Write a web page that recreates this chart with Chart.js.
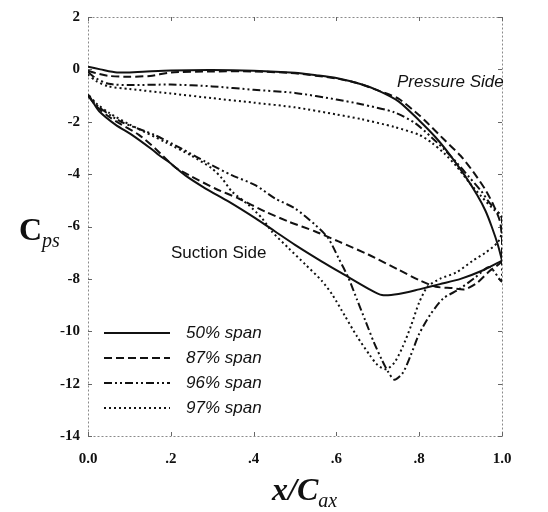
<!DOCTYPE html>
<html><head><meta charset="utf-8">
<script src="https://cdn.jsdelivr.net/npm/chart.js@4/dist/chart.umd.min.js"></script>
<style>html,body{margin:0;padding:0;background:#fff}</style>
</head><body>
<canvas id="c" width="548" height="512"></canvas>
<script>
// ---- data (x/Cax, Cps) ----
const spanLabels = ['50% span', '87% span', '96% span', '97% span'];

const pressure50 = [[0,0.1],[0.03,0.0],[0.07,-0.12],[0.12,-0.1],[0.2,-0.04],[0.3,-0.02],[0.4,-0.05],[0.5,-0.13],[0.55,-0.22],[0.6,-0.33],[0.66,-0.57],[0.7,-0.8],[0.75,-1.22],[0.8,-1.95],[0.84,-2.6],[0.875,-3.28],[0.91,-4.05],[0.94,-4.8],[0.96,-5.4],[0.975,-6.0],[0.99,-6.7],[1.0,-7.3]];
const suction50 = [[0,-0.95],[0.01,-1.2],[0.027,-1.6],[0.067,-2.12],[0.106,-2.5],[0.154,-3.05],[0.171,-3.27],[0.195,-3.53],[0.235,-4.05],[0.284,-4.55],[0.34,-5.05],[0.404,-5.68],[0.452,-6.19],[0.5,-6.7],[0.564,-7.33],[0.62,-7.85],[0.68,-8.4],[0.71,-8.62],[0.75,-8.58],[0.8,-8.4],[0.85,-8.2],[0.9,-8.0],[0.95,-7.7],[1.0,-7.3]];

const pressure87 = [[0,-0.05],[0.02,-0.15],[0.05,-0.25],[0.1,-0.28],[0.15,-0.25],[0.2,-0.12],[0.3,-0.08],[0.4,-0.08],[0.5,-0.15],[0.6,-0.35],[0.65,-0.52],[0.7,-0.8],[0.75,-1.12],[0.8,-1.75],[0.82,-2.05],[0.86,-2.68],[0.9,-3.3],[0.93,-3.9],[0.96,-4.6],[0.98,-5.2],[0.995,-5.8],[1.0,-6.5]];
const suction87 = [[0,-1.0],[0.02,-1.4],[0.05,-1.8],[0.08,-2.1],[0.123,-2.5],[0.163,-3.03],[0.211,-3.75],[0.243,-4.03],[0.307,-4.55],[0.364,-4.93],[0.428,-5.43],[0.484,-5.81],[0.549,-6.19],[0.605,-6.57],[0.677,-7.07],[0.75,-7.65],[0.8,-8.05],[0.84,-8.3],[0.88,-8.35],[0.91,-8.4],[0.94,-8.15],[0.97,-7.7],[1.0,-7.3]];

const pressure96 = [[0,-0.1],[0.02,-0.35],[0.05,-0.55],[0.1,-0.6],[0.2,-0.58],[0.3,-0.65],[0.4,-0.78],[0.5,-0.9],[0.6,-1.15],[0.66,-1.33],[0.74,-1.64],[0.79,-2.05],[0.83,-2.6],[0.86,-3.05],[0.89,-3.55],[0.92,-4.1],[0.95,-4.65],[0.97,-5.1],[1.0,-5.7]];
const suction96 = [[0,-1.0],[0.027,-1.45],[0.08,-2.0],[0.163,-2.52],[0.226,-3.03],[0.284,-3.53],[0.347,-4.04],[0.404,-4.42],[0.452,-4.93],[0.5,-5.31],[0.549,-5.94],[0.58,-6.44],[0.605,-7.2],[0.629,-7.96],[0.65,-8.8],[0.67,-9.6],[0.69,-10.4],[0.71,-11.1],[0.725,-11.55],[0.74,-11.85],[0.76,-11.6],[0.78,-10.9],[0.8,-10.1],[0.827,-9.36],[0.858,-8.75],[0.896,-8.4],[0.935,-7.95],[0.97,-7.55],[1.0,-8.1],[1.0,-7.2]];

const pressure97 = [[0,-0.2],[0.02,-0.45],[0.05,-0.65],[0.1,-0.75],[0.2,-0.92],[0.3,-1.1],[0.4,-1.27],[0.5,-1.45],[0.6,-1.72],[0.66,-1.9],[0.74,-2.2],[0.8,-2.5],[0.83,-2.8],[0.86,-3.2],[0.89,-3.7],[0.92,-4.3],[0.95,-4.85],[0.98,-5.35],[1.0,-5.6]];
const suction97 = [[0,-0.95],[0.02,-1.3],[0.05,-1.65],[0.1,-2.1],[0.187,-2.78],[0.25,-3.3],[0.3,-3.79],[0.324,-4.17],[0.348,-4.67],[0.388,-5.18],[0.42,-5.68],[0.444,-6.19],[0.484,-6.82],[0.525,-7.45],[0.565,-8.08],[0.59,-8.6],[0.62,-9.4],[0.65,-10.2],[0.68,-10.9],[0.7,-11.3],[0.72,-11.45],[0.74,-11.2],[0.76,-10.6],[0.78,-9.8],[0.8,-8.9],[0.82,-8.3],[0.85,-8.0],[0.89,-7.75],[0.93,-7.3],[0.96,-7.0],[0.99,-6.6],[1.0,-6.2]];

const xTickValues = [0, 0.2, 0.4, 0.6, 0.8, 1.0];
const xTickLabels = ['0.0', '.2', '.4', '.6', '.8', '1.0'];
const yTickValues = [2, 0, -2, -4, -6, -8, -10, -12, -14];
const yTickLabels = ['2', '0', '-2', '-4', '-6', '-8', '-10', '-12', '-14'];

// ---- styles ----
const dashes = [[], [8, 4], [8, 3, 2, 3, 2, 3], [2, 3]];
const ink = '#111';

function loop(p, s) {
  return p.concat(s.slice().reverse()).map(([x, y]) => ({x, y}));
}
const series = [loop(pressure50, suction50), loop(pressure87, suction87), loop(pressure96, suction96), loop(pressure97, suction97)];

const datasets = series.map((d, i) => ({
  label: spanLabels[i], data: d, showLine: true, pointRadius: 0,
  borderColor: ink, borderWidth: 2, borderDash: dashes[i], tension: 0.25, fill: false
}));

const decor = {
  id: 'decor',
  beforeDatasetsDraw(chart) {
    const {ctx, chartArea: a, scales: {x, y}} = chart;
    ctx.save();
    ctx.strokeStyle = '#8a8a8a'; ctx.lineWidth = 1; ctx.setLineDash([2, 2]);
    ctx.strokeRect(a.left + 0.5, a.top + 0.5, a.right - a.left, a.bottom - a.top);
    ctx.setLineDash([]); ctx.strokeStyle = '#666';
    ctx.beginPath();
    xTickValues.forEach(v => { const px = Math.round(x.getPixelForValue(v)) + 0.5; ctx.moveTo(px, a.bottom); ctx.lineTo(px, a.bottom - 4); ctx.moveTo(px, a.top); ctx.lineTo(px, a.top + 4); });
    yTickValues.forEach(v => { const py = Math.round(y.getPixelForValue(v)) + 0.5; ctx.moveTo(a.left, py); ctx.lineTo(a.left + 4, py); ctx.moveTo(a.right, py); ctx.lineTo(a.right - 4, py); });
    ctx.stroke();
    ctx.restore();
  },
  afterDraw(chart) {
    const {ctx} = chart;
    ctx.save();
    ctx.fillStyle = ink;
    // annotations
    ctx.font = 'italic 17px "Liberation Sans Narrow", "Liberation Sans", Arial, sans-serif';
    ctx.textBaseline = 'alphabetic'; ctx.textAlign = 'left';
    ctx.fillText('Pressure Side', 397, 87);
    ctx.font = '17px "Liberation Sans Narrow", "Liberation Sans", Arial, sans-serif';
    ctx.fillText('Suction Side', 171, 258);
    // legend
    const ly = [333, 358, 383, 408];
    chart.data.datasets.forEach((ds, i) => {
      ctx.beginPath(); ctx.strokeStyle = ink; ctx.lineWidth = 2; ctx.setLineDash(ds.borderDash);
      ctx.moveTo(104, ly[i]); ctx.lineTo(170, ly[i]); ctx.stroke();
      ctx.setLineDash([]);
      ctx.font = 'italic 17px "Liberation Sans Narrow", "Liberation Sans", Arial, sans-serif';
      ctx.textBaseline = 'middle';
      ctx.fillText(ds.label, 186, ly[i]);
    });
    // axis titles
    ctx.textBaseline = 'alphabetic';
    ctx.font = 'bold 32px "Liberation Serif", "Times New Roman", serif';
    ctx.fillText('C', 19, 240);
    ctx.font = 'italic 20px "Liberation Serif", "Times New Roman", serif';
    ctx.fillText('ps', 42, 247);
    ctx.font = 'bold italic 32px "Liberation Serif", "Times New Roman", serif';
    ctx.fillText('x/C', 272, 500);
    const w = ctx.measureText('x/C').width;
    ctx.font = 'italic 20px "Liberation Serif", "Times New Roman", serif';
    ctx.fillText('ax', 272 + w, 507);
    ctx.restore();
  }
};

new Chart(document.getElementById('c'), {
  type: 'scatter',
  data: {datasets},
  options: {
    responsive: false, animation: false, devicePixelRatio: 1,
    layout: {padding: {top: 14, right: 46, left: 0, bottom: 0}},
    plugins: {legend: {display: false}, tooltip: {enabled: false}},
    scales: {
      x: {
        type: 'linear', min: 0, max: 1,
        afterBuildTicks: s => { s.ticks = xTickValues.map(v => ({value: v})); },
        ticks: {callback: (v) => xTickLabels[xTickValues.indexOf(v)] ?? '', color: ink, padding: 14, maxRotation: 0,
                font: {family: '"Liberation Serif", "Times New Roman", serif', weight: 'bold', size: 15}},
        grid: {display: false, drawTicks: false}, border: {display: false},
        afterFit: s => { s.height = 76; }
      },
      y: {
        type: 'linear', min: -14, max: 2,
        afterBuildTicks: s => { s.ticks = yTickValues.map(v => ({value: v})); },
        ticks: {callback: (v) => yTickLabels[yTickValues.indexOf(v)] ?? '', color: ink, padding: 8,
                font: {family: '"Liberation Serif", "Times New Roman", serif', weight: 'bold', size: 15}},
        grid: {display: false, drawTicks: false}, border: {display: false},
        afterFit: s => { s.width = 88; }
      }
    }
  },
  plugins: [decor]
});
</script>
</body></html>
